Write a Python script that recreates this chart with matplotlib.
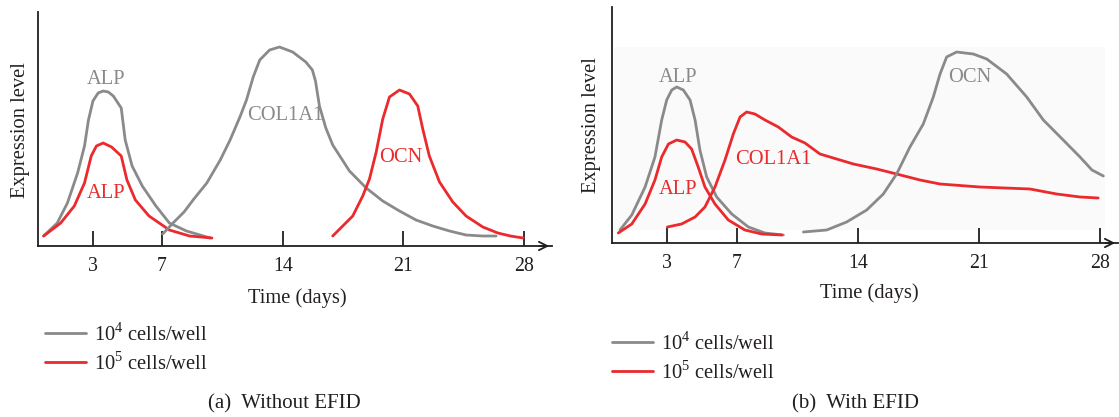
import numpy as np
import matplotlib
matplotlib.use('Agg')
import matplotlib.pyplot as plt
from matplotlib.patches import Rectangle

plt.rcParams['font.family'] = 'Liberation Serif'
plt.rcParams['mathtext.fontset'] = 'custom'
plt.rcParams['mathtext.rm'] = 'Liberation Serif'
plt.rcParams['lines.solid_joinstyle'] = 'round'
plt.rcParams['lines.solid_capstyle'] = 'round'

GRAY = '#8a8a8a'
RED = '#ea2a2c'
INK = '#231f20'

ticks = [3, 7, 14, 21, 28]
legend_labels = ['10$^4$ cells/well', '10$^5$ cells/well']

# (a) without EFID (days, level)
a_alp_gray_t = [0.14, 0.93, 1.52, 2.11, 2.51, 2.74, 3.0, 3.3, 3.59, 3.89, 4.18, 4.64, 4.87, 5.27,
                5.86, 6.65, 7.43, 8.42, 9.8]
a_alp_gray_y = [10, 23, 43, 73, 100, 126, 145, 153, 155, 154, 150, 138, 106, 80, 60, 40, 23, 15, 8]
a_alp_red_t = [0.14, 1.13, 1.92, 2.51, 2.9, 3.2, 3.59, 4.08, 4.64, 4.97, 5.46, 6.25, 7.43, 8.6, 9.9]
a_alp_red_y = [10, 23, 40, 63, 90, 100, 103, 99, 90, 66, 46, 30, 16, 10, 8]
a_col_gray_t = [7.04, 7.7, 8.28, 8.85, 9.6, 10.38, 10.95, 11.52, 11.9, 12.29, 12.67, 13.24, 13.81,
                14.58, 15.34, 15.72, 15.9, 16.13, 16.5, 16.9, 17.87, 18.84, 19.8, 20.77, 21.73,
                22.7, 23.67, 24.63, 25.6, 26.37]
a_col_gray_y = [12, 24, 34, 47, 63, 86, 106, 129, 146, 169, 186, 196, 199, 194, 184, 176, 165,
                140, 118, 101, 75, 58, 45, 35, 26, 20, 15, 11, 10, 10]
a_ocn_red_t = [16.9, 17.48, 18.06, 18.64, 19.03, 19.42, 19.8, 20.19, 20.77, 21.35, 21.83, 22.12,
               22.5, 23.09, 23.86, 24.63, 25.6, 26.47, 27.2, 27.94]
a_ocn_red_y = [10, 20, 30, 50, 67, 94, 127, 149, 156, 152, 140, 117, 90, 64, 44, 30, 19, 13, 10, 8]

# (b) with EFID
b_alp_gray_t = [0.26, 0.94, 1.71, 2.28, 2.67, 2.96, 3.25, 3.54, 3.92, 4.31, 4.6, 4.88, 5.27,
                5.85, 6.72, 7.68, 8.64, 9.7]
b_alp_gray_y = [13, 28, 56, 86, 123, 143, 153, 156, 153, 143, 123, 93, 66, 46, 29, 16, 10, 8]
b_alp_red_t = [0.16, 0.94, 1.71, 2.28, 2.67, 3.06, 3.54, 4.02, 4.4, 4.78, 5.17, 5.75, 6.52, 7.48,
               8.45, 9.6]
b_alp_red_y = [10, 19, 39, 63, 86, 99, 103, 101, 94, 76, 56, 39, 23, 13, 9, 8]
b_col_red_t = [3.0, 3.82, 4.6, 5.17, 5.75, 6.33, 6.81, 7.2, 7.58, 8.06, 8.64, 9.41, 10.18, 10.95,
               11.82, 13.75, 15.1, 16.25, 17.6, 18.76, 21.07, 23.96, 25.5, 26.85, 27.9]
b_col_red_y = [16, 19, 26, 36, 56, 83, 109, 126, 131, 129, 123, 116, 106, 100, 89, 79, 74, 69,
               63, 59, 56, 54, 49, 46, 45]
b_ocn_gray_t = [10.86, 12.21, 13.36, 14.52, 15.48, 16.25, 17.02, 17.79, 18.37, 18.76, 19.14,
                19.72, 20.68, 21.46, 22.61, 23.77, 24.73, 25.88, 26.85, 27.54, 28.2]
b_ocn_gray_y = [11, 13, 21, 33, 49, 69, 96, 119, 146, 169, 186, 191, 189, 184, 169, 146, 123,
                103, 86, 73, 67]

W, H = 1119, 417
fig = plt.figure(figsize=(W / 100, H / 100), dpi=100)
FS = 14.8


def make_axes(x0, x1, ybase, ytop, day0, pxday, ylab_xy, xlab_xy):
    ax = fig.add_axes([x0 / W, (H - ybase) / H, (x1 - x0) / W, (ybase - ytop) / H])
    ax.set_xlim((x0 - day0) / pxday, (x1 - day0) / pxday)
    ax.set_ylim(0, ybase - ytop)
    for s in ['top', 'right']:
        ax.spines[s].set_visible(False)
    for s in ['left', 'bottom']:
        ax.spines[s].set_color(INK)
        ax.spines[s].set_linewidth(1.3)
    ax.set_yticks([])
    ax.set_xticks(ticks)
    ax.tick_params(axis='x', direction='in', length=11, width=1.3, color=INK,
                   labelsize=14.3, labelcolor=INK, pad=8)
    ax.annotate('', xy=(1.0, 0), xytext=(0.97, 0), xycoords='axes fraction',
                arrowprops=dict(arrowstyle='->', color=INK, lw=1.3, mutation_scale=15))
    ax.set_xlabel('Time (days)', fontsize=FS, color=INK, va='center')
    ax.xaxis.set_label_coords(xlab_xy[0] / W, 1 - xlab_xy[1] / H, transform=fig.transFigure)
    ax.set_ylabel('Expression level', fontsize=FS, color=INK, va='center')
    ax.yaxis.set_label_coords(ylab_xy[0] / W, 1 - ylab_xy[1] / H, transform=fig.transFigure)
    ax.patch.set_alpha(0)
    return ax


lw = 2.0
axa = make_axes(37.5, 552, 246, 12, 41.2, 17.25, (21, 130), (297, 298))
axa.plot(a_alp_gray_t, a_alp_gray_y, color=GRAY, lw=lw, label=legend_labels[0])
axa.plot(a_alp_red_t, a_alp_red_y, color=RED, lw=lw, label=legend_labels[1])
axa.plot(a_col_gray_t, a_col_gray_y, color=GRAY, lw=lw)
axa.plot(a_ocn_red_t, a_ocn_red_y, color=RED, lw=lw)
axa.text(3.76, 167, 'ALP', color=GRAY, fontsize=FS, ha='center', va='center')
axa.text(3.76, 53, 'ALP', color=RED, fontsize=FS, ha='center', va='center')
axa.text(14.17, 130, 'COL1A1', color=GRAY, fontsize=FS, ha='center', va='center')
axa.text(20.84, 88, 'OCN', color=RED, fontsize=FS, ha='center', va='center')

axb = make_axes(611.7, 1118, 243, 7, 615.5, 17.3, (592, 125), (869, 293))
# faint grey backdrop of the scanned panel
axb.add_patch(Rectangle((-0.1, 13), 28.4, 183, facecolor='#fafafa', edgecolor='none', zorder=0))
axb.plot(b_alp_gray_t, b_alp_gray_y, color=GRAY, lw=lw, label=legend_labels[0])
axb.plot(b_alp_red_t, b_alp_red_y, color=RED, lw=lw, label=legend_labels[1])
axb.plot(b_col_red_t, b_col_red_y, color=RED, lw=lw)
axb.plot(b_ocn_gray_t, b_ocn_gray_y, color=GRAY, lw=lw)
axb.text(3.63, 166, 'ALP', color=GRAY, fontsize=FS, ha='center', va='center')
axb.text(3.63, 54, 'ALP', color=RED, fontsize=FS, ha='center', va='center')
axb.text(9.1, 83, 'COL1A1', color=RED, fontsize=FS, ha='center', va='center')
axb.text(20.5, 166, 'OCN', color=GRAY, fontsize=FS, ha='center', va='center')

for ax, lx, ly in [(axa, 45, 323), (axb, 611.8, 332)]:
    ax.legend(loc='upper left', bbox_to_anchor=(lx / W, 1 - ly / H), bbox_transform=fig.transFigure,
              frameon=False, fontsize=FS, handlelength=2.0, handletextpad=0.4,
              labelspacing=0.3, borderpad=0, borderaxespad=0, labelcolor=INK)

fig.text(284 / W, 1 - 404 / H, '(a)  Without EFID', fontsize=15, color=INK, ha='center', va='center')
fig.text(856 / W, 1 - 404 / H, '(b)  With EFID', fontsize=15, color=INK, ha='center', va='center')

fig.savefig('out.png', dpi=100)
